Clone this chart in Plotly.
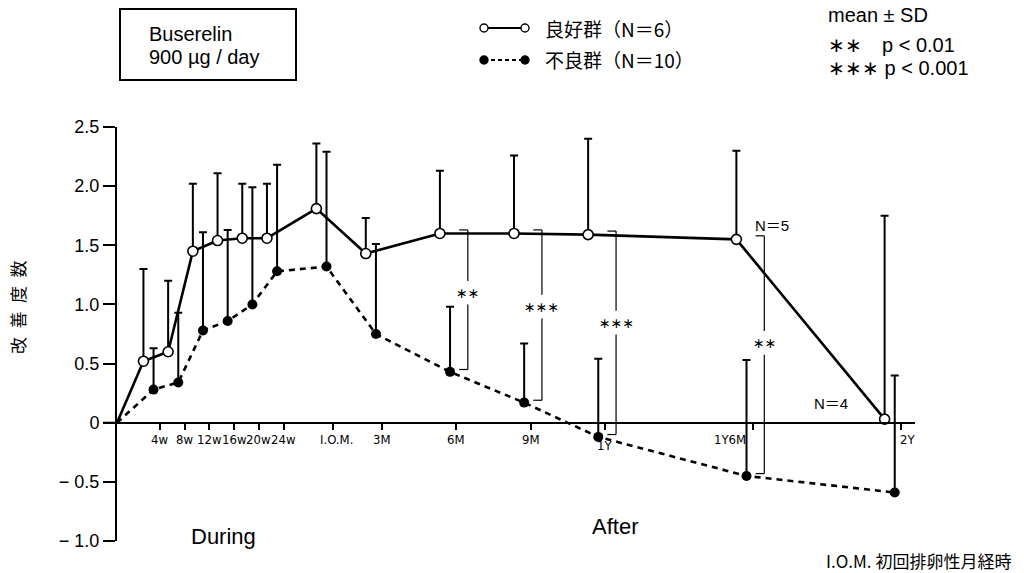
import plotly.graph_objects as go

# ---------------- data ----------------
tick_labels = ["4w", "8w", "12w", "16w", "20w", "24w", "I.O.M.", "3M", "6M", "9M", "1Y", "1Y6M", "2Y"]
t_pos = [1, 2, 3, 4, 5, 6, 8, 10, 13, 16, 19, 25, 31]          # position of each visit along the x axis
good_mean = [0.52, 0.60, 1.45, 1.54, 1.56, 1.56, 1.81, 1.43, 1.60, 1.60, 1.59, 1.55, 0.03]
good_sd = [0.78, 0.60, 0.57, 0.57, 0.46, 0.46, 0.55, 0.30, 0.53, 0.66, 0.81, 0.75, 1.72]
poor_mean = [0.28, 0.34, 0.78, 0.86, 1.00, 1.28, 1.32, 0.75, 0.43, 0.17, -0.12, -0.45, -0.59]
poor_sd = [0.35, 0.59, 0.83, 0.77, 0.99, 0.90, 0.97, 0.76, 0.55, 0.50, 0.66, 0.98, 0.99]
sig_index = [8, 9, 10, 11]
sig_label = ["∗∗", "∗∗∗", "∗∗∗", "∗∗"]
y_ticks = [-1.0, -0.5, 0, 0.5, 1.0, 1.5, 2.0, 2.5]
y_tick_text = ["− 1.0", "− 0.5", "0", "0.5", "1.0", "1.5", "2.0", "2.5"]

# ---------------- layout constants ----------------
W, H = 1024, 573
L, R, T, B = 117, 915, 127, 541
X_MAX = 32.3
GOOD_OFF, POOR_OFF, TICK_OFF = 0.07, 0.48, 0.74
FONT = "Liberation Sans, Arial, Noto Sans CJK JP, sans-serif"
JFONT = "Noto Sans CJK JP, Liberation Sans, sans-serif"
NARROW = "Liberation Sans Narrow, DejaVu Sans Condensed, Liberation Sans, Arial, sans-serif"


def PX(px):
    return (px - L) / (R - L)


def PY(py):
    return (B - py) / (B - T)


gx = [t + GOOD_OFF for t in t_pos]
px_ = [t + POOR_OFF for t in t_pos]
tick_pos = [t + TICK_OFF for t in t_pos]

fig = go.Figure()

# poor group
fig.add_trace(go.Scatter(x=[0] + px_, y=[0] + poor_mean, mode="lines",
                         line=dict(color="black", width=2.6, dash="6px,5px"), hoverinfo="skip"))
fig.add_trace(go.Scatter(x=px_, y=poor_mean, mode="markers",
                         marker=dict(symbol="circle", size=10, color="black"),
                         error_y=dict(type="data", symmetric=False, array=poor_sd,
                                      arrayminus=[0] * len(poor_sd), color="black",
                                      thickness=2, width=4)))
# good group
fig.add_trace(go.Scatter(x=[0] + gx, y=[0] + good_mean, mode="lines",
                         line=dict(color="black", width=2.6), hoverinfo="skip"))
fig.add_trace(go.Scatter(x=gx, y=good_mean, mode="markers",
                         marker=dict(symbol="circle", size=10, color="white",
                                     line=dict(color="black", width=1.6)),
                         error_y=dict(type="data", symmetric=False, array=good_sd,
                                      arrayminus=[0] * len(good_sd), color="black",
                                      thickness=2, width=4)))

shapes = []
annotations = []


def note(**kw):
    kw.setdefault("showarrow", False)
    kw.setdefault("yanchor", "middle")
    kw.setdefault("xanchor", "center")
    annotations.append(kw)


# significance brackets
for i, lab in zip(sig_index, sig_label):
    xb = t_pos[i] + 1.2
    top = good_mean[i] + 0.03
    bot = poor_mean[i] + 0.02
    ymid = bot + 0.55 * (top - bot)
    gap = 0.1
    ln = dict(color="black", width=1.2)
    shapes += [
        dict(type="line", xref="x", yref="y", x0=xb - 0.35, x1=xb, y0=top, y1=top, line=ln),
        dict(type="line", xref="x", yref="y", x0=xb, x1=xb, y0=top, y1=ymid + gap, line=ln),
        dict(type="line", xref="x", yref="y", x0=xb, x1=xb, y0=ymid - gap, y1=bot, line=ln),
        dict(type="line", xref="x", yref="y", x0=xb - 0.35, x1=xb, y0=bot, y1=bot, line=ln),
    ]
    note(x=xb, y=ymid, xref="x", yref="y", text=lab,
         font=dict(size=14, family="DejaVu Sans, " + FONT, color="black"))

# x tick labels
for i, (tp, lab) in enumerate(zip(tick_pos, tick_labels)):
    a = dict(x=tp, y=0, xref="x", yref="y", text=lab, yanchor="top",
             xanchor="center", yshift=-7, font=dict(size=13, family=NARROW, color="black"))
    if lab == "I.O.M.":
        a["xshift"] = 4
    if lab == "1Y":
        a["yshift"] = -13
    if lab == "1Y6M":
        a["xanchor"] = "right"
        a["xshift"] = -5
    if lab == "2Y":
        a["xanchor"] = "left"
        a["xshift"] = -3
    note(**a)

# extension of the x axis line to the left of the y axis
shapes.append(dict(type="line", xref="paper", yref="paper", x0=PX(103), x1=0,
                   y0=1 / 3.5, y1=1 / 3.5, line=dict(color="black", width=2)))

# N annotations
note(x=26.5, y=1.67, xref="x", yref="y", text="N＝5", font=dict(size=15, family=FONT, color="black"))
note(x=28.9, y=0.16, xref="x", yref="y", text="N＝4", font=dict(size=15, family=FONT, color="black"))

# drug box
shapes.append(dict(type="rect", xref="paper", yref="paper", x0=PX(120), x1=PX(296),
                   y0=PY(80), y1=PY(9), line=dict(color="black", width=2)))
note(x=PX(147), y=PY(34), xref="paper", yref="paper", text="Buserelin", xanchor="left",
     font=dict(size=20, family=FONT, color="black"))
note(x=PX(147), y=PY(57), xref="paper", yref="paper", text="900 µg / day", xanchor="left",
     font=dict(size=20, family=FONT, color="black"))

# custom legend
leg_rows = [(28, "良好群（N＝6）", "white", None), (60, "不良群（N＝10）", "black", "4px,3px")]
for py, txt, fill, dash in leg_rows:
    shapes.append(dict(type="line", xref="paper", yref="paper", x0=PX(484), x1=PX(525),
                       y0=PY(py), y1=PY(py),
                       line=dict(color="black", width=1.8, dash=dash if dash else "solid")))
    for cx in (484, 525):
        shapes.append(dict(type="circle", xref="paper", yref="paper", xsizemode="pixel",
                           ysizemode="pixel", xanchor=PX(cx), yanchor=PY(py),
                           x0=-4, x1=4, y0=-4, y1=4, fillcolor=fill,
                           line=dict(color="black", width=1.4)))
    note(x=PX(543), y=PY(py), xref="paper", yref="paper", text=txt, xanchor="left",
         font=dict(size=19, family=JFONT, color="black"))

# stats note
for py, txt in [(15, "mean ± SD"), (45, "∗∗　p < 0.01"), (68, "∗∗∗ p < 0.001")]:
    note(x=PX(826), y=PY(py), xref="paper", yref="paper", text=txt, xanchor="left",
         font=dict(size=20, family=FONT, color="black"))

# period labels
note(x=PX(223), y=PY(536), xref="paper", yref="paper", text="During",
     font=dict(size=22, family=FONT, color="black"))
note(x=PX(615), y=PY(526), xref="paper", yref="paper", text="After",
     font=dict(size=22, family=FONT, color="black"))
note(x=PX(1013), y=PY(560), xref="paper", yref="paper", text="I.O.M. 初回排卵性月経時",
     xanchor="right", font=dict(size=17, family=JFONT, color="black"))
# y axis title
note(x=PX(17), y=PY(307), xref="paper", yref="paper", text="改\u2002善\u2002度\u2002数",
     textangle=-90, font=dict(size=17, family=JFONT, color="black"))

fig.update_layout(
    width=W, height=H,
    margin=dict(l=L, r=W - R, t=T, b=H - B),
    paper_bgcolor="white", plot_bgcolor="white",
    showlegend=False,
    xaxis=dict(range=[0, X_MAX], anchor="free", position=1 / 3.5, showline=True,
               linecolor="black", linewidth=2, ticks="outside", ticklen=6, tickwidth=1.5,
               tickcolor="black", tickvals=tick_pos, showticklabels=False,
               showgrid=False, zeroline=False),
    yaxis=dict(range=[-1.0, 2.5], showline=True, linecolor="black", linewidth=2,
               ticks="outside", ticklen=12, tickwidth=1.5, tickcolor="black",
               tickvals=y_ticks, ticktext=y_tick_text, showgrid=False, zeroline=False,
               tickfont=dict(size=18, family=FONT, color="black")),
    shapes=shapes,
    annotations=annotations,
)

fig.write_html("out.html", config={"displayModeBar": False},
               post_script="document.body.style.margin='0px';")
